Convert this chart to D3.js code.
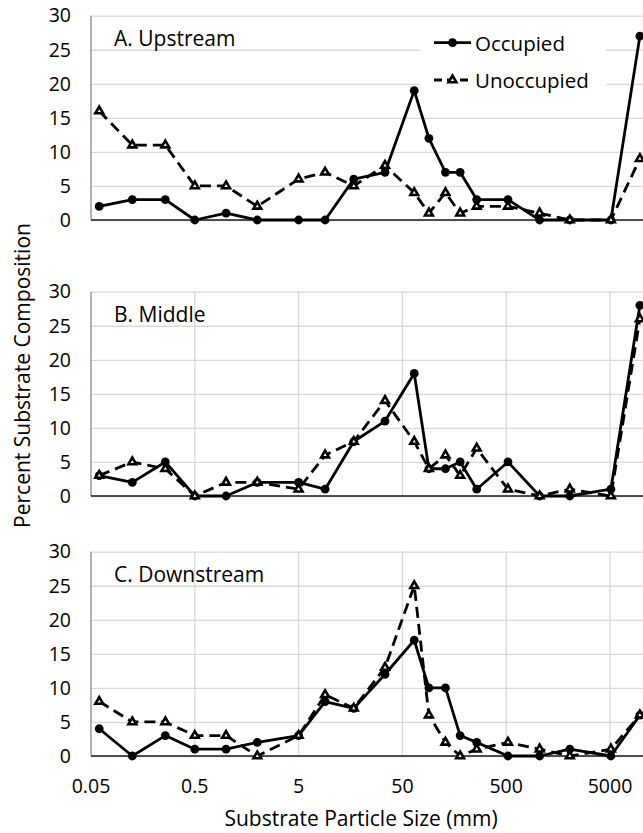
<!DOCTYPE html>
<html>
<head>
<meta charset="utf-8">
<script src="https://cdn.jsdelivr.net/npm/d3@7"></script>
<style>
  body { margin: 0; background: #fff; }
  text { font-family: "Open Sans", sans-serif; fill: #000; }
</style>
</head>
<body>
<div id="chart"></div>
<script>
(function () {

  // particle size classes (mm)
  var sizes = [0.06, 0.125, 0.26, 0.5, 1, 2, 5, 9, 17, 34, 65, 90, 130, 180, 260, 520, 1050, 2050, 5100, 9700]

  var occUpstream     = [2, 3, 3, 0, 1, 0, 0, 0, 6, 7, 19, 12, 7, 7, 3, 3, 0, 0, 0, 27]
  var unoccUpstream   = [16, 11, 11, 5, 5, 2, 6, 7, 5, 8, 4, 1, 4, 1, 2, 2, 1, 0, 0, 9]
  var occMiddle       = [3, 2, 5, 0, 0, 2, 2, 1, 8, 11, 18, 4, 4, 5, 1, 5, 0, 0, 1, 28]
  var unoccMiddle     = [3, 5, 4, 0, 2, 2, 1, 6, 8, 14, 8, 4, 6, 3, 7, 1, 0, 1, 0, 26]
  var occDownstream   = [4, 0, 3, 1, 1, 2, 3, 8, 7, 12, 17, 10, 10, 3, 2, 0, 0, 1, 0, 6]
  var unoccDownstream = [8, 5, 5, 3, 3, 0, 3, 9, 7, 13, 25, 6, 2, 0, 1, 2, 1, 0, 1, 6]

  var sizeTicks = [0.05, 0.5, 5, 50, 500, 5000]
  var pctTicks = [0, 5, 10, 15, 20, 25, 30]
  var panelTitles = ["A. Upstream", "B. Middle", "C. Downstream"]
  var seriesNames = ["Occupied", "Unoccupied"]

  var width = 643,
      height = 833

  var svg = d3.select("#chart").append("svg")
      .attr("width", width)
      .attr("height", height)

  var left = 91, decade = 103.8
  var xPositionScale = d3.scaleLog()
    .domain([0.05, 50000])
    .range([left, left + 6 * decade])

  var panels = [
    { title: panelTitles[0], occ: occUpstream, unocc: unoccUpstream, top: 15.7, vgrid: false },
    { title: panelTitles[1], occ: occMiddle, unocc: unoccMiddle, top: 291.7, vgrid: true },
    { title: panelTitles[2], occ: occDownstream, unocc: unoccDownstream, top: 551.7, vgrid: true }
  ]
  var panelHeight = 204.3

  var triangle = d3.symbol().type(d3.symbolTriangle).size(26)
  var dash = "11,6"

  panels.forEach(function (p, i) {
    var yPositionScale = d3.scaleLinear()
      .domain([0, 30])
      .range([p.top + panelHeight, p.top])

    var g = svg.append("g")

    // horizontal grid + y labels
    var yAxis = d3.axisLeft(yPositionScale)
      .tickValues(pctTicks)
      .tickSize(-(width - left))
      .tickSizeOuter(0)
      .tickPadding(20)
    g.append("g")
      .attr("class", "axis y-axis")
      .attr("transform", "translate(" + left + ",0)")
      .call(yAxis)
      .call(function (a) {
        a.select(".domain").remove()
        a.selectAll(".tick line").attr("stroke", "#d9d9d9").attr("stroke-width", 1.3)
        a.selectAll(".tick text")
          .style("font-size", "19.5px")
          .attr("fill", "#000")
      })

    if (p.vgrid) {
      g.selectAll(".vgrid")
        .data(sizeTicks.slice(1))
        .enter().append("line")
        .attr("stroke", "#d9d9d9")
        .attr("stroke-width", 1.3)
        .attr("x1", function (d) { return xPositionScale(d) })
        .attr("x2", function (d) { return xPositionScale(d) })
        .attr("y1", yPositionScale(30))
        .attr("y2", yPositionScale(0))
    }

    // axis lines
    g.append("line")
      .attr("x1", left).attr("x2", left)
      .attr("y1", yPositionScale(30)).attr("y2", yPositionScale(0))
      .attr("stroke", "#8a8a8a").attr("stroke-width", 1.3)
    g.append("line")
      .attr("x1", left).attr("x2", width)
      .attr("y1", yPositionScale(0)).attr("y2", yPositionScale(0))
      .attr("stroke", "#1a1a1a").attr("stroke-width", 1.6)

    g.append("text")
      .attr("x", 114)
      .attr("y", p.top + 22.5)
      .attr("dominant-baseline", "central")
      .style("font-size", "21px")
      .text(p.title)

    var line = d3.line()
      .x(function (d, j) { return xPositionScale(sizes[j]) })
      .y(function (d) { return yPositionScale(d) })

    // occupied
    g.append("path")
      .datum(p.occ)
      .attr("fill", "none")
      .attr("stroke", "#000")
      .attr("stroke-width", 2.8)
      .attr("stroke-linejoin", "round")
      .attr("d", line)
    g.selectAll(".occ")
      .data(p.occ)
      .enter().append("circle")
      .attr("r", 4.4)
      .attr("fill", "#000")
      .attr("cx", function (d, j) { return xPositionScale(sizes[j]) })
      .attr("cy", function (d) { return yPositionScale(d) })

    // unoccupied
    g.append("path")
      .datum(p.unocc)
      .attr("fill", "none")
      .attr("stroke", "#000")
      .attr("stroke-width", 2.8)
      .attr("stroke-dasharray", dash)
      .attr("d", line)
    g.selectAll(".unocc")
      .data(p.unocc)
      .enter().append("path")
      .attr("d", triangle)
      .attr("fill", "#fff")
      .attr("stroke", "#000")
      .attr("stroke-width", 2.6)
      .attr("transform", function (d, j) {
        return "translate(" + xPositionScale(sizes[j]) + "," + yPositionScale(d) + ")"
      })

    if (i === 0) {
      var legend = g.append("g")
      legend.append("rect")
        .attr("x", 420).attr("y", 24)
        .attr("width", 186).attr("height", 76)
        .attr("fill", "#fff")
      var ly = [42.7, 80]
      legend.selectAll(".lline")
        .data(seriesNames)
        .enter().append("line")
        .attr("x1", 434).attr("x2", 471)
        .attr("y1", function (d, k) { return ly[k] })
        .attr("y2", function (d, k) { return ly[k] })
        .attr("stroke", "#000")
        .attr("stroke-width", 2.8)
        .attr("stroke-dasharray", function (d, k) { return k ? "8,5" : null })
      legend.append("circle")
        .attr("cx", 452.5).attr("cy", ly[0]).attr("r", 4.4).attr("fill", "#000")
      legend.append("path")
        .attr("d", triangle)
        .attr("fill", "#fff").attr("stroke", "#000").attr("stroke-width", 2.6)
        .attr("transform", "translate(452.5," + ly[1] + ")")
      legend.selectAll(".ltext")
        .data(seriesNames)
        .enter().append("text")
        .attr("x", 475)
        .attr("y", function (d, k) { return ly[k] })
        .attr("dominant-baseline", "central")
        .style("font-size", "20.5px")
        .text(function (d) { return d })
    }

    if (i === 2) {
      g.selectAll(".xlab")
        .data(sizeTicks)
        .enter().append("text")
        .attr("x", function (d) { return xPositionScale(d) })
        .attr("y", yPositionScale(0) + 29)
        .attr("text-anchor", "middle")
        .attr("dominant-baseline", "central")
        .style("font-size", "19.5px")
        .text(function (d) { return d })
    }
  })

  svg.append("text")
    .attr("transform", "translate(22,375.5) rotate(-90)")
    .attr("text-anchor", "middle")
    .attr("dominant-baseline", "central")
    .style("font-size", "21px")
    .text("Percent Substrate Composition")

  svg.append("text")
    .attr("x", 361)
    .attr("y", 818)
    .attr("text-anchor", "middle")
    .attr("dominant-baseline", "central")
    .style("font-size", "21px")
    .text("Substrate Particle Size (mm)")

})()
</script>
</body>
</html>
